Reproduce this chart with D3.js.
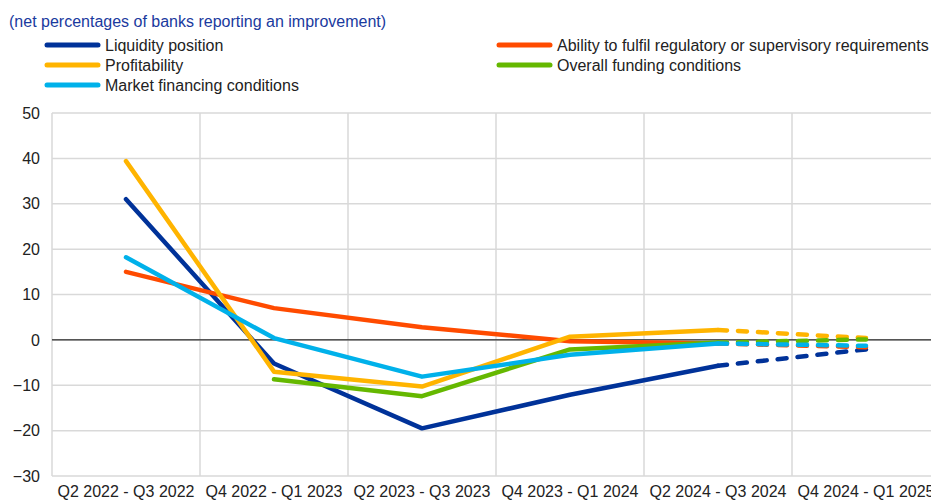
<!DOCTYPE html>
<html><head><meta charset="utf-8">
<script src="https://cdn.jsdelivr.net/npm/d3@7"></script>
<style>body{margin:0;background:#fff;overflow:hidden}svg{display:block;font-family:"Liberation Sans",Arial,sans-serif}</style>
</head><body><svg id="c" width="931" height="503"></svg>
<script>
const categories = ["Q2 2022 - Q3 2022","Q4 2022 - Q1 2023","Q2 2023 - Q3 2023","Q4 2023 - Q1 2024","Q2 2024 - Q3 2024","Q4 2024 - Q1 2025"];
const liquidity     = [31, -5.2, -19.5, -12.1, -5.7, -2.1];
const ability       = [15, 7.0, 2.8, -0.3, -0.8, -1.6];
const profitability = [39.4, -7.0, -10.3, 0.7, 2.2, 0.4];
const funding       = [null, -8.7, -12.4, -2.1, -0.6, 0.1];
const market        = [18.2, 0.4, -8.1, -3.3, -0.8, -1.3];
const yTicks = [50, 40, 30, 20, 10, 0, -10, -20, -30];
const forecastFrom = 4; // last segment is an expectation (dashed)

const series = [
  {name:"Liquidity position", values:liquidity, color:"#003299"},
  {name:"Ability to fulfil regulatory or supervisory requirements", values:ability, color:"#ff4b00"},
  {name:"Profitability", values:profitability, color:"#ffb400"},
  {name:"Overall funding conditions", values:funding, color:"#65b800"},
  {name:"Market financing conditions", values:market, color:"#00b1ea"}
];

const svg = d3.select("#c");
const pL = 52, pT = 113, pB = 476;
const band = 148;
const x = d3.scaleBand().domain(categories).range([pL, pL + band*categories.length]);
const y = d3.scaleLinear().domain([-30, 50]).range([pB, pT]);

// grid
const g = svg.append("g");
g.selectAll("line.h").data(yTicks).enter().append("line")
  .attr("x1", pL).attr("x2", 931).attr("y1", d=>y(d)).attr("y2", d=>y(d))
  .attr("stroke", "#d9d9d9").attr("stroke-width", 1.5);
g.selectAll("line.v").data(categories.slice(1)).enter().append("line")
  .attr("x1", d=>x(d)).attr("x2", d=>x(d)).attr("y1", pT).attr("y2", pB)
  .attr("stroke", "#d9d9d9").attr("stroke-width", 1.5);
g.append("line").attr("x1", pL).attr("x2", pL).attr("y1", pT).attr("y2", pB)
  .attr("stroke", "#d9d9d9").attr("stroke-width", 1.5);
g.append("line").attr("x1", pL).attr("x2", 931).attr("y1", y(0)).attr("y2", y(0))
  .attr("stroke", "#000").attr("stroke-width", 1);

// y axis labels
const yAxis = d3.axisLeft(y).tickValues(yTicks).tickSize(0).tickPadding(12);
const ya = svg.append("g").attr("transform", `translate(${pL},0)`).call(yAxis);
ya.select(".domain").remove();
ya.selectAll("text").attr("font-size", 16).attr("fill", "#222").attr("font-family", "Liberation Sans, Arial, sans-serif");

// x axis labels
const xAxis = d3.axisBottom(x).tickSize(0).tickPadding(10);
const xa = svg.append("g").attr("transform", `translate(0,${pB})`).call(xAxis);
xa.select(".domain").remove();
xa.selectAll("text").attr("font-size", 16).attr("fill", "#222").attr("font-family", "Liberation Sans, Arial, sans-serif");

// lines
const cx = c => x(c) + x.bandwidth()/2;
const line = d3.line().defined(d => d.v !== null).x(d => cx(d.c)).y(d => y(d.v));
series.forEach(s => {
  const pts = s.values.map((v,i)=>({c:categories[i], v:v}));
  svg.append("path").attr("d", line(pts.slice(0, forecastFrom+1)))
    .attr("fill","none").attr("stroke", s.color).attr("stroke-width", 4.5)
    .attr("stroke-linejoin","round").attr("stroke-linecap","round");
  svg.append("path").attr("d", line(pts.slice(forecastFrom)))
    .attr("fill","none").attr("stroke", s.color).attr("stroke-width", 4.5)
    .attr("stroke-dasharray","9,11").attr("stroke-linecap","round");
});

// title
svg.append("text").attr("x", 9).attr("y", 27).attr("font-size", 16).attr("fill", "#1a3a9e")
  .text("(net percentages of banks reporting an improvement)");

// legend
const legPos = [[45,45],[497,45],[45,65],[497,65],[45,85]];
series.forEach((s,i) => {
  const [lx, ly] = legPos[i];
  svg.append("line").attr("x1", lx+2).attr("x2", lx+53).attr("y1", ly).attr("y2", ly)
    .attr("stroke", s.color).attr("stroke-width", 5).attr("stroke-linecap","round");
  svg.append("text").attr("x", lx+60).attr("y", ly+5.5).attr("font-size", 16).attr("fill","#222")
    .text(s.name);
});
</script></body></html>
